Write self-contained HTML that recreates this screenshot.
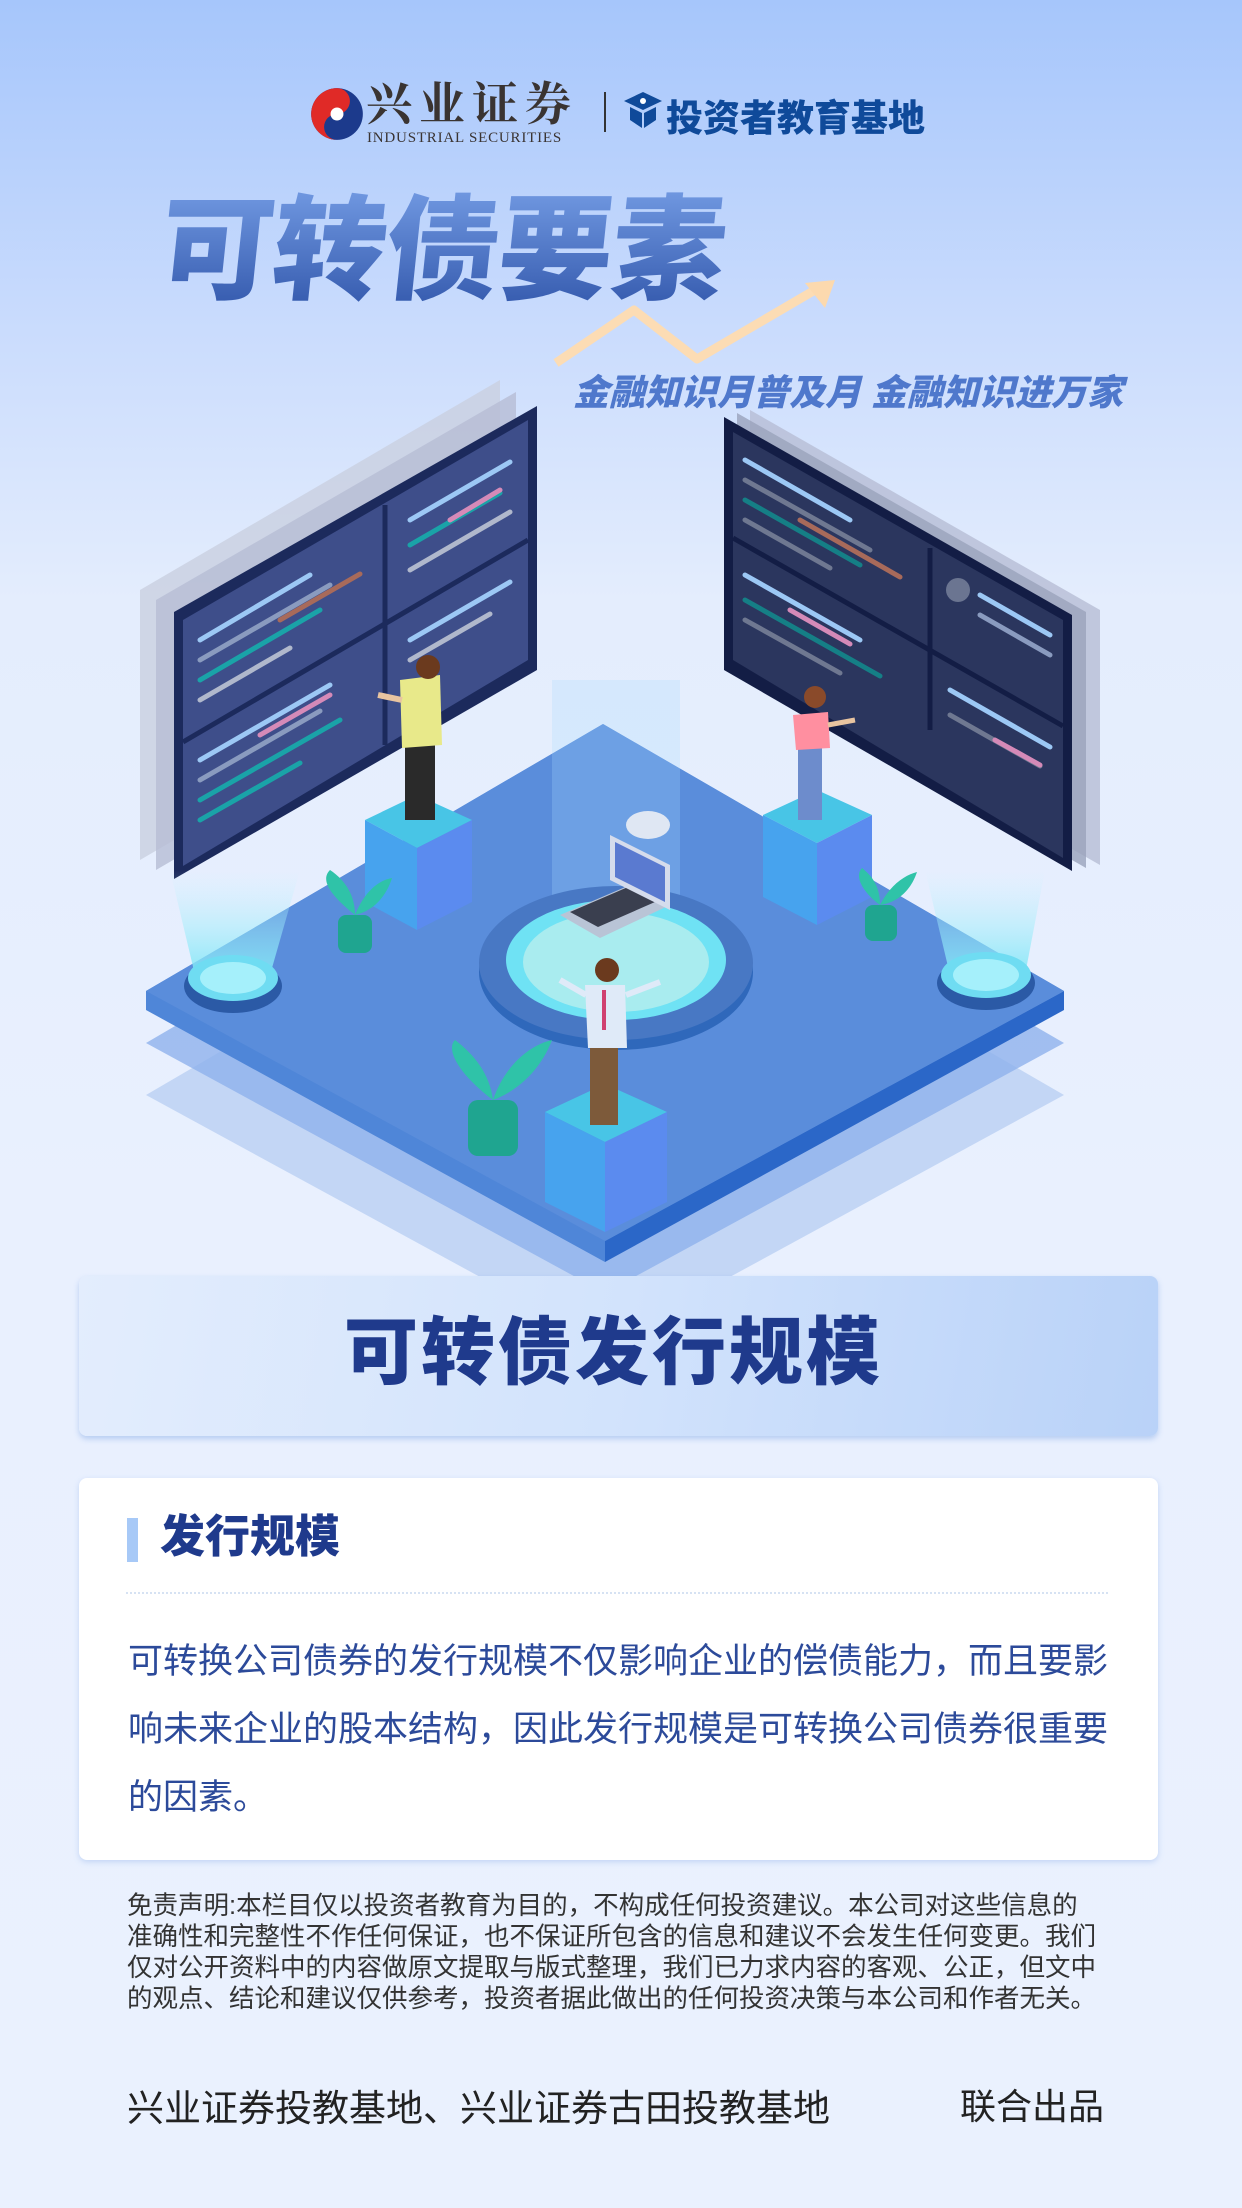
<!DOCTYPE html>
<html><head><meta charset="utf-8"><style>
*{margin:0;padding:0;box-sizing:border-box}
body{width:1242px;height:2208px;overflow:hidden;position:relative;font-family:"Liberation Sans","Noto Sans CJK SC",sans-serif;
background:linear-gradient(180deg,#a6c6fb 0px,#c7dafd 300px,#e4edfd 600px,#e9f0fe 1200px,#eaf1fe 2208px)}
.abs{position:absolute;white-space:nowrap}
</style></head><body>
<!-- logo -->
<svg class="abs" style="left:310px;top:86px" width="54" height="56" viewBox="0 0 50 52">
<circle cx="25" cy="26" r="24" fill="#1c3a8c"/>
<path d="M25 2 A24 24 0 0 0 25 50 A12 12 0 0 1 25 26 A12 12 0 0 0 25 2Z" fill="#e02a27"/>
<circle cx="25" cy="26" r="6" fill="#fff"/></svg>
<div class="abs" style="left:366px;top:68px;font-family:'Noto Serif CJK SC',serif;font-size:46px;font-weight:700;color:#3a3432;letter-spacing:7px">兴业证券</div>
<div class="abs" style="left:367px;top:130px;font-family:'Liberation Serif',serif;font-size:15px;color:#3a3432;letter-spacing:0.8px">INDUSTRIAL SECURITIES</div>
<div class="abs" style="left:604px;top:92px;width:2px;height:40px;background:#333"></div>
<svg class="abs" style="left:622px;top:90px" width="42" height="42" viewBox="0 0 42 42">
<path d="M21 2 L40 11 L21 20 L2 11Z" fill="#0f4a9a"/><path d="M8 17 L8 30 L20 38 L20 23Z M34 17 L34 30 L22 38 L22 23Z" fill="#0f4a9a"/><circle cx="21" cy="11" r="3" fill="#fff"/></svg>
<div class="abs" style="left:666px;top:88px;font-size:37px;font-weight:900;color:#0f4a9a;letter-spacing:0px">投资者教育基地</div>
<!-- title -->
<div class="abs" style="left:160px;top:192px;font-size:114px;font-weight:900;transform:skewX(-6deg);letter-spacing:-1px;color:transparent;background:linear-gradient(180deg,#6f97e0,#3358ac);-webkit-background-clip:text;background-clip:text;line-height:120px">可转债要素</div>
<svg class="abs" style="left:0;top:0" width="1242" height="400">
<polyline points="556,363 634,310 697,359 815,290" fill="none" stroke="#fcdcb4" stroke-width="9" stroke-linejoin="round"/>
<polygon points="835,280 805,283 825,308" fill="#fcd9ae"/></svg>
<div class="abs" style="left:573px;top:364px;font-size:36px;font-weight:900;font-style:italic;color:#4f78cc;letter-spacing:0px">金融知识月普及月 金融知识进万家</div>
<!-- illustration -->
<svg class="abs" style="left:0;top:370px" width="1242" height="910" viewBox="0 370 1242 910">
<defs>
<linearGradient id="beam" x1="0" y1="0" x2="0" y2="1"><stop offset="0" stop-color="#bff3ff" stop-opacity="0"/><stop offset="1" stop-color="#7fe6f6" stop-opacity=".9"/></linearGradient>
</defs>
<polygon points="146,1095 603,828 1064,1095 605,1345" fill="#b9cff3" opacity=".8"/>
<polygon points="146,1043 603,776 1064,1043 605,1293" fill="#8fb2ec" opacity=".8"/>
<polygon points="146,991 603,724 1064,991 605,1241 605,1262 146,1010" fill="#4f86d8"/>
<polygon points="1064,991 1064,1010 605,1262 605,1241" fill="#2b67c8"/>
<polygon points="146,991 603,724 1064,991 605,1241" fill="#5a8ddb"/>
<polygon points="140,590 500,380 500,650 140,860" fill="#c9cfe0" opacity=".8"/>
<polygon points="156,600 516,392 516,660 156,870" fill="#b6bdd4" opacity=".8"/>
<polygon points="174,612 537,406 537,670 174,879" fill="#1c2a5c"/>
<polygon points="183,620 528,420 528,660 183,866" fill="#3e4e8a"/>
<g stroke-width="5" stroke-linecap="round">
<line x1="200" y1="640" x2="310" y2="575" stroke="#9cc8f5"/><line x1="200" y1="660" x2="330" y2="585" stroke="#8a9bbf"/><line x1="200" y1="680" x2="320" y2="610" stroke="#1aa3a8"/><line x1="200" y1="700" x2="290" y2="648" stroke="#b0b8cc"/><line x1="280" y1="620" x2="360" y2="574" stroke="#a86a5a"/>
<line x1="410" y1="520" x2="510" y2="462" stroke="#9cc8f5"/><line x1="410" y1="545" x2="500" y2="493" stroke="#1aa3a8"/><line x1="410" y1="570" x2="510" y2="512" stroke="#b0b8cc"/><line x1="450" y1="520" x2="500" y2="490" stroke="#d58ab8"/>
<line x1="200" y1="760" x2="330" y2="685" stroke="#9cc8f5"/><line x1="200" y1="780" x2="320" y2="711" stroke="#8a9bbf"/><line x1="200" y1="800" x2="340" y2="720" stroke="#1aa3a8"/><line x1="200" y1="820" x2="300" y2="763" stroke="#1aa3a8"/><line x1="260" y1="735" x2="330" y2="695" stroke="#d58ab8"/>
<line x1="410" y1="640" x2="510" y2="582" stroke="#9cc8f5"/><line x1="410" y1="660" x2="490" y2="614" stroke="#b0b8cc"/>
</g>
<line x1="183" y1="742" x2="528" y2="540" stroke="#1c2a5c" stroke-width="5"/><line x1="385" y1="505" x2="385" y2="745" stroke="#1c2a5c" stroke-width="5"/>
<polygon points="750,410 1100,610 1100,865 750,665" fill="#b6bdd4" opacity=".8"/>
<polygon points="737,413 1086,612 1086,868 737,668" fill="#9aa2bb" opacity=".8"/>
<polygon points="724,417 1072,615 1072,871 724,670" fill="#131d45"/>
<polygon points="733,432 1063,620 1063,858 733,660" fill="#2b365e"/>
<g stroke-width="5" stroke-linecap="round">
<line x1="745" y1="460" x2="850" y2="520" stroke="#9cc8f5"/><line x1="745" y1="480" x2="870" y2="550" stroke="#6f7891"/><line x1="745" y1="500" x2="860" y2="565" stroke="#157f86"/><line x1="800" y1="520" x2="900" y2="577" stroke="#a86a5a"/><line x1="745" y1="520" x2="830" y2="568" stroke="#6f7891"/>
<line x1="745" y1="575" x2="860" y2="640" stroke="#9cc8f5"/><line x1="745" y1="600" x2="880" y2="676" stroke="#157f86"/><line x1="790" y1="610" x2="850" y2="644" stroke="#d58ab8"/><line x1="745" y1="620" x2="840" y2="673" stroke="#6f7891"/>
<line x1="980" y1="595" x2="1050" y2="635" stroke="#9cc8f5"/><line x1="980" y1="615" x2="1050" y2="655" stroke="#8a9bbf"/><line x1="950" y1="690" x2="1050" y2="747" stroke="#9cc8f5"/><line x1="950" y1="715" x2="1040" y2="766" stroke="#6f7891"/><line x1="995" y1="740" x2="1040" y2="765" stroke="#d58ab8"/>
</g>
<circle cx="958" cy="590" r="12" fill="#6b7591"/>
<line x1="733" y1="538" x2="1063" y2="726" stroke="#131d45" stroke-width="5"/><line x1="930" y1="548" x2="930" y2="730" stroke="#131d45" stroke-width="5"/>
<polygon points="170,870 300,870 270,975 195,975" fill="url(#beam)"/>
<polygon points="925,870 1045,870 1025,975 950,975" fill="url(#beam)"/>
<ellipse cx="233" cy="986" rx="49" ry="27" fill="#2b5aa6"/><ellipse cx="233" cy="978" rx="45" ry="23" fill="#6fdcf2"/><ellipse cx="233" cy="978" rx="33" ry="16" fill="#a5f0fb"/>
<ellipse cx="986" cy="983" rx="49" ry="27" fill="#2b5aa6"/><ellipse cx="986" cy="975" rx="45" ry="23" fill="#6fdcf2"/><ellipse cx="986" cy="975" rx="33" ry="16" fill="#a5f0fb"/>
<rect x="552" y="680" width="128" height="270" fill="#a8dcff" opacity=".25"/>
<ellipse cx="616" cy="972" rx="137" ry="78" fill="#2f68bb"/>
<ellipse cx="616" cy="963" rx="137" ry="77" fill="#4878c4"/>
<ellipse cx="616" cy="960" rx="110" ry="60" fill="#6fe2f4"/>
<ellipse cx="616" cy="962" rx="93" ry="50" fill="#a9ecef"/>
<polygon points="560,915 630,885 670,905 600,938" fill="#b9c4d6"/>
<polygon points="570,912 628,887 655,902 598,927" fill="#3a3f4f"/>
<polygon points="610,835 670,865 670,910 610,880" fill="#d5dcec"/><polygon points="615,842 665,867 665,902 615,877" fill="#5a7ad0"/>
<ellipse cx="648" cy="825" rx="22" ry="14" fill="#dfe7f3"/>
<polygon points="365,820 417,795 472,820 417,848" fill="#48c5e6"/>
<polygon points="365,820 417,848 417,930 365,902" fill="#47a3ee"/>
<polygon points="417,848 472,820 472,902 417,930" fill="#5b8bef"/>
<polygon points="545,1112 605,1084 667,1112 605,1142" fill="#48c5e6"/>
<polygon points="545,1112 605,1142 605,1232 545,1202" fill="#47a3ee"/>
<polygon points="605,1142 667,1112 667,1202 605,1232" fill="#5b8bef"/>
<polygon points="763,815 817,790 872,815 817,843 " fill="#48c5e6"/>
<polygon points="763,815 817,843 817,925 763,897" fill="#47a3ee"/>
<polygon points="817,843 872,815 872,897 817,925" fill="#5b8bef"/>
<rect x="338" y="915" width="34" height="38" rx="8" fill="#1fa590"/><path d="M355 915 C330 895 320 880 330 870 C345 880 355 895 355 915 C365 890 380 880 392 878 C385 900 370 912 355 915Z" fill="#2fc3a8"/>
<rect x="865" y="905" width="32" height="36" rx="8" fill="#1fa590"/><path d="M880 905 C860 890 855 875 862 868 C875 878 880 890 880 905 C890 885 905 875 917 872 C910 893 895 903 880 905Z" fill="#2fc3a8"/>
<rect x="468" y="1100" width="50" height="56" rx="10" fill="#1fa590"/><path d="M493 1100 C460 1075 445 1050 455 1040 C475 1055 490 1075 493 1100 C505 1065 530 1045 552 1040 C540 1072 515 1092 493 1100Z" fill="#2fc3a8"/>
<g><rect x="405" y="740" width="30" height="80" fill="#2a2a2a"/><path d="M400 680 L440 675 L442 745 L402 748Z" fill="#e8e98a"/><circle cx="428" cy="667" r="12" fill="#6b3a1e"/><line x1="402" y1="700" x2="378" y2="695" stroke="#e8c4a0" stroke-width="6"/></g>
<g><rect x="798" y="745" width="24" height="75" fill="#6d8ccc"/><path d="M793 715 L828 712 L830 748 L796 750Z" fill="#ff8fa0"/><circle cx="815" cy="697" r="11" fill="#8a4a2a"/><line x1="828" y1="725" x2="855" y2="720" stroke="#e8c4a0" stroke-width="5"/></g>
<g><rect x="590" y="1045" width="28" height="80" fill="#7d5a3a"/><path d="M585 985 L625 985 L627 1048 L588 1048Z" fill="#dfeaf8"/><circle cx="607" cy="970" r="12" fill="#6b3a1e"/><line x1="586" y1="995" x2="560" y2="980" stroke="#dfeaf8" stroke-width="6"/><line x1="626" y1="995" x2="660" y2="982" stroke="#dfeaf8" stroke-width="6"/><line x1="604" y1="990" x2="604" y2="1030" stroke="#d04070" stroke-width="4"/></g>
</svg>
<!-- banner -->
<div class="abs" style="left:79px;top:1276px;width:1079px;height:160px;border-radius:8px;background:linear-gradient(100deg,#e3edfd 0%,#d2e3fc 50%,#b9d2f8 100%);box-shadow:0 3px 6px rgba(90,140,220,.35)"></div>
<div class="abs" style="left:344px;top:1308px;font-size:74px;font-weight:900;color:#1f3a8c;line-height:90px;letter-spacing:3px">可转债发行规模</div>
<!-- card -->
<div class="abs" style="left:79px;top:1478px;width:1079px;height:382px;border-radius:8px;background:#fff;box-shadow:0 2px 6px rgba(120,160,230,.35)"></div>
<div class="abs" style="left:127px;top:1518px;width:11px;height:44px;background:#a7c9f7"></div>
<div class="abs" style="left:160px;top:1510px;font-size:45px;font-weight:900;color:#1f3a8c;line-height:54px">发行规模</div>
<div class="abs" style="left:126px;top:1592px;width:982px;border-top:2px dotted #d6e2f3"></div>
<div class="abs" style="left:128px;top:1628px;width:1000px;white-space:normal;font-size:35px;line-height:68px;color:#2c4a9a">可转换公司债券的发行规模不仅影响企业的偿债能力，而且要影响未来企业的股本结构，因此发行规模是可转换公司债券很重要的因素。</div>
<!-- disclaimer -->
<div class="abs" style="left:127px;top:1891px;font-size:25.5px;line-height:31px;color:#333">免责声明:本栏目仅以投资者教育为目的，不构成任何投资建议。本公司对这些信息的<br>准确性和完整性不作任何保证，也不保证所包含的信息和建议不会发生任何变更。我们<br>仅对公开资料中的内容做原文提取与版式整理，我们已力求内容的客观、公正，但文中<br>的观点、结论和建议仅供参考，投资者据此做出的任何投资决策与本公司和作者无关。</div>
<div class="abs" style="left:127px;top:2078px;font-size:37px;color:#222">兴业证券投教基地、兴业证券古田投教基地</div>
<div class="abs" style="left:960px;top:2078px;font-size:36px;color:#222">联合出品</div>
</body></html>
